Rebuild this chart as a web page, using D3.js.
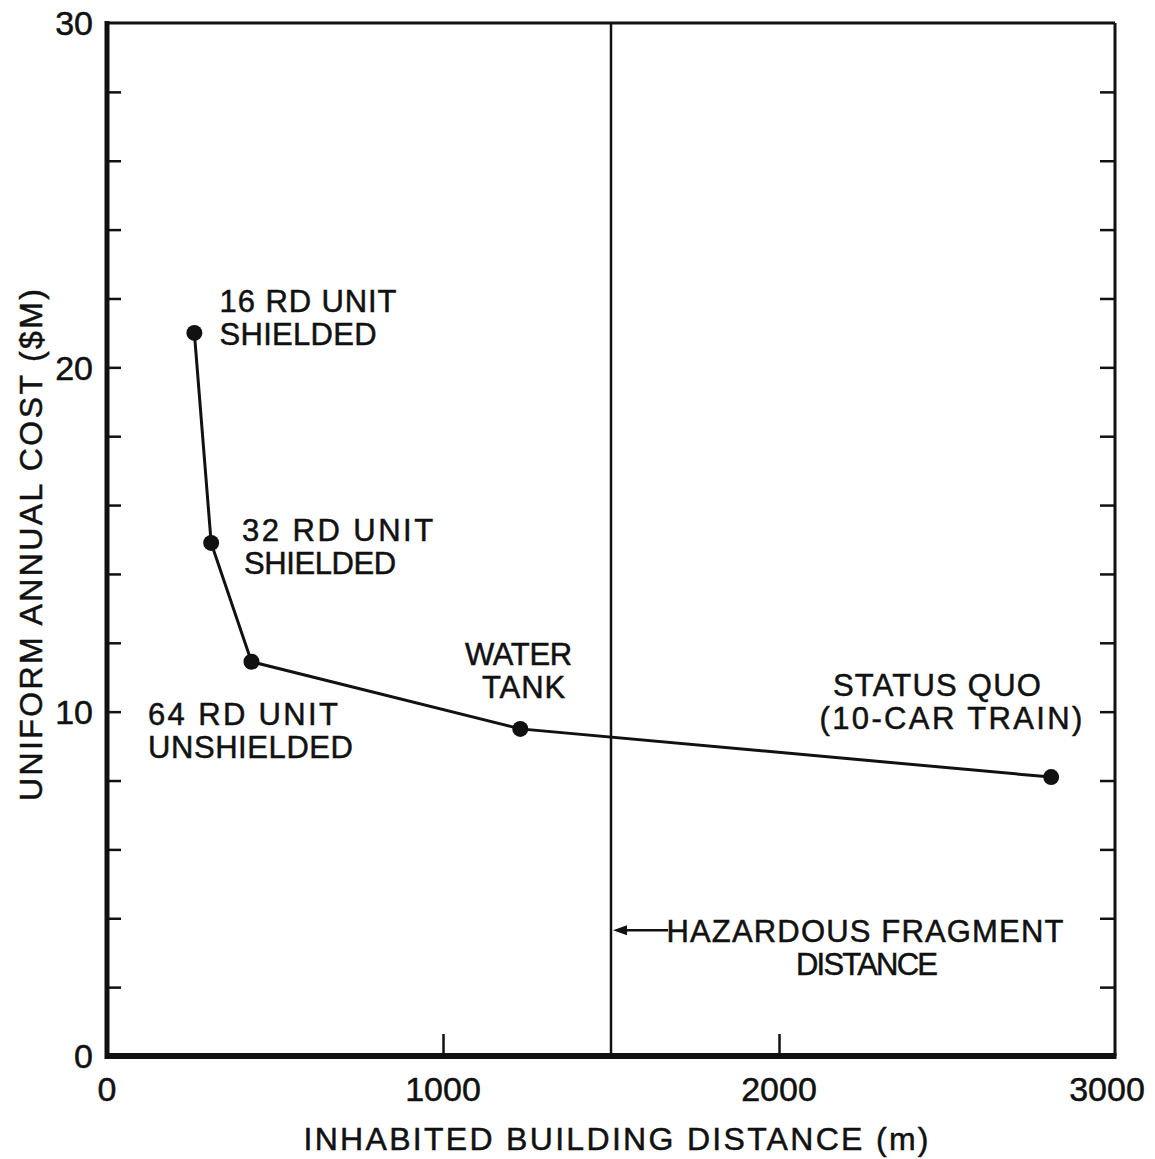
<!DOCTYPE html>
<html><head><meta charset="utf-8">
<script src="https://cdn.jsdelivr.net/npm/d3@7"></script>
<style>body{margin:0;background:#fff}svg{display:block}text{font-family:"Liberation Sans",Arial,sans-serif;fill:#111;stroke:#111;stroke-width:0.5px}</style>
</head><body>
<svg id="c" width="1155" height="1159"></svg>
<script>
// data
const distances = [260, 310, 430, 1230, 2810];
const costs = [21.0, 14.9, 11.45, 9.5, 8.1];
const pointNames = ["16 RD UNIT|SHIELDED", "32 RD UNIT|SHIELDED", "64 RD UNIT|UNSHIELDED", "WATER|TANK", "STATUS QUO|(10-CAR TRAIN)"];
const xTickValues = [0, 1000, 2000, 3000];
const yTickLabels = [0, 10, 20, 30];
const yMinorTicks = [2, 4, 6, 8, 10, 12, 14, 16, 18, 20, 22, 24, 26, 28];
const hazardDistance = 1500;
const hazardLabel = ["HAZARDOUS FRAGMENT", "DISTANCE"];
const xTitle = "INHABITED BUILDING DISTANCE (m)";
const yTitle = "UNIFORM ANNUAL COST ($M)";

const svg = d3.select("#c");
const x = d3.scaleLinear().domain([0, 3000]).range([107, 1115]);
const y = d3.scaleLinear().domain([0, 30]).range([1056, 23]);
const ink = "#111";

// frame
svg.append("line").attr("x1", x(0)).attr("x2", x(3000)).attr("y1", y(30)).attr("y2", y(30)).attr("stroke", ink).attr("stroke-width", 3);
svg.append("line").attr("x1", x(3000)).attr("x2", x(3000)).attr("y1", y(30)).attr("y2", y(0)).attr("stroke", ink).attr("stroke-width", 3);
svg.append("line").attr("x1", x(0)).attr("x2", x(0)).attr("y1", y(30) - 2).attr("y2", y(0) + 3).attr("stroke", ink).attr("stroke-width", 5);
svg.append("line").attr("x1", x(0) - 2).attr("x2", x(3000) + 1.5).attr("y1", y(0)).attr("y2", y(0)).attr("stroke", ink).attr("stroke-width", 6);

// y ticks inside, left and right
const gl = svg.append("g").attr("transform", `translate(${x(0)},0)`)
  .call(d3.axisRight(y).tickValues(yMinorTicks).tickSize(14).tickFormat(""));
const gr = svg.append("g").attr("transform", `translate(${x(3000)},0)`)
  .call(d3.axisLeft(y).tickValues(yMinorTicks).tickSize(15).tickFormat(""));
[gl, gr].forEach(g => { g.select(".domain").remove(); g.selectAll("line").attr("stroke", ink).attr("stroke-width", 2.5); });

// x ticks inside
const gx = svg.append("g").attr("transform", `translate(0,${y(0)})`)
  .call(d3.axisTop(x).tickValues([1000, 2000]).tickSize(22).tickFormat(""));
gx.select(".domain").remove();
gx.selectAll("line").attr("stroke", ink).attr("stroke-width", 2.5);

// tick labels
svg.append("g").selectAll("text").data(yTickLabels).join("text")
  .attr("x", 93).attr("y", d => y(d)).attr("dy", "0.36em")
  .attr("text-anchor", "end").attr("font-size", 34).text(d => d);
svg.append("g").selectAll("text").data(xTickValues).join("text")
  .attr("x", d => x(d) + (d === 3000 ? -8 : 0)).attr("y", y(0) + 33).attr("dy", "0.36em")
  .attr("text-anchor", "middle").attr("font-size", 34).text(d => d);

// axis titles
svg.append("text").attr("x", (x(0) + x(3000)) / 2 + 5).attr("y", 1150)
  .attr("text-anchor", "middle").attr("font-size", 32).attr("textLength", 625).attr("lengthAdjust", "spacing").text(xTitle);
svg.append("text").attr("transform", `translate(42,${545}) rotate(-90)`)
  .attr("text-anchor", "middle").attr("font-size", 32).attr("textLength", 512).attr("lengthAdjust", "spacing").text(yTitle);

// hazard vertical line
svg.append("line").attr("x1", x(hazardDistance)).attr("x2", x(hazardDistance)).attr("y1", y(30)).attr("y2", y(0))
  .attr("stroke", ink).attr("stroke-width", 2.5);

// data line
const pts = distances.map((d, i) => ({ x: d, y: costs[i], name: pointNames[i] }));
svg.append("path").datum(pts)
  .attr("d", d3.line().x(d => x(d.x)).y(d => y(d.y)))
  .attr("fill", "none").attr("stroke", ink).attr("stroke-width", 3);
svg.append("g").selectAll("circle").data(pts).join("circle")
  .attr("cx", d => x(d.x)).attr("cy", d => y(d.y)).attr("r", 8).attr("fill", ink);

// point labels (data-unit anchors: x, baseline y of first line, anchor, widths)
const labelX = [335, 402, 122, 1225, 2470];
const labelY = [21.6, 14.95, 9.6, 11.35, 10.45];
const labelAnchor = ["start", "start", "start", "middle", "middle"];
const labelWidths = [[177, 157], [191, 152], [190, 205], [107, 83], [208, 263]];
const labelShift = [[0, 0], [0, 2], [0, 0], [0, 5], [0, 14]];
const lineGap = 33;
pts.forEach((p, i) => {
  const lines = p.name.split("|");
  lines.forEach((t, j) => {
    svg.append("text")
      .attr("x", x(labelX[i]) + labelShift[i][j])
      .attr("y", y(labelY[i]) + j * lineGap)
      .attr("text-anchor", labelAnchor[i])
      .attr("font-size", 31)
      .attr("textLength", labelWidths[i][j]).attr("lengthAdjust", "spacing")
      .text(t);
  });
});

// hazard annotation with arrow
const arrowY = 3.65;
svg.append("line").attr("x1", x(1670)).attr("x2", x(hazardDistance) + 10).attr("y1", y(arrowY)).attr("y2", y(arrowY))
  .attr("stroke", ink).attr("stroke-width", 2.5);
svg.append("path")
  .attr("d", `M${x(hazardDistance) + 2},${y(arrowY)} l14,-5 l0,10 z`).attr("fill", ink);
svg.append("text").attr("x", x(1665)).attr("y", y(arrowY) + 12)
  .attr("font-size", 31).attr("textLength", 397).attr("lengthAdjust", "spacing").text(hazardLabel[0]);
svg.append("text").attr("x", 867).attr("y", y(arrowY) + 45)
  .attr("text-anchor", "middle").attr("font-size", 31).attr("textLength", 142).attr("lengthAdjust", "spacing").text(hazardLabel[1]);
</script>
</body></html>
